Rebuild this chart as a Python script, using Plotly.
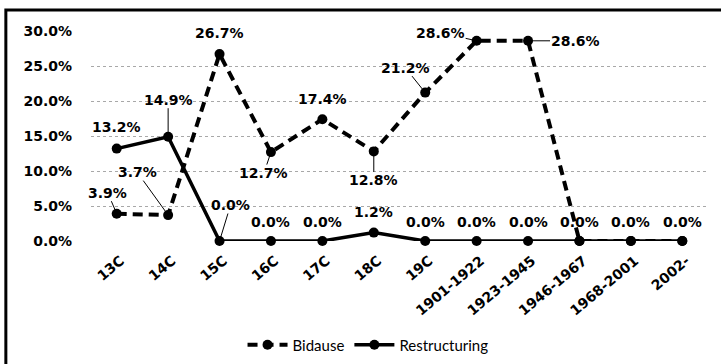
import plotly.graph_objects as go

# Periods on the category axis
periods = ["13C", "14C", "15C", "16C", "17C", "18C", "19C",
           "1901-1922", "1923-1945", "1946-1967", "1968-2001", "2002-"]

# Share of cases per period (%)
bidause = [3.9, 3.7, 26.7, 12.7, 17.4, 12.8, 21.2, 28.6, 28.6, 0.0, 0.0, 0.0]
restructuring = [13.2, 14.9, 0.0, 0.0, 0.0, 1.2, 0.0, 0.0, 0.0, 0.0, 0.0, 0.0]

y_ticks = [0, 5, 10, 15, 20, 25, 30]

# Label placement (pixel offsets from the point; leader line when True)
bid_label_pos = {
    0: (-9, -21, True), 1: (-31, -43, True), 2: (0, -21, False),
    3: (-7, 21, True), 4: (0, -20, False), 5: (0, 29, True),
    6: (-20, -25, True), 7: (-36, -8, True), 8: (47, 0, True),
}
res_label_pos = {0: (0, -22, False), 1: (0, -37, True), 2: (11, -36, True)}

LABEL_FONT = dict(family="DejaVu Sans", size=14, color="black", weight="bold")

fig = go.Figure()
fig.add_trace(go.Scatter(
    x=periods, y=bidause, name="Bidause", mode="lines+markers",
    line=dict(color="black", width=4, dash="10px,6px"),
    marker=dict(size=10, color="black"), cliponaxis=False,
))
fig.add_trace(go.Scatter(
    x=periods, y=restructuring, name="Restructuring", mode="lines+markers",
    line=dict(color="black", width=3.5),
    marker=dict(size=10, color="black"), cliponaxis=False,
))

annotations = []


def add_label(xv, yv, dx, dy, leader):
    text = f"{yv:.1f}%"
    if leader:
        annotations.append(dict(
            x=xv, y=yv, text=text, showarrow=True, arrowhead=0,
            arrowwidth=1, arrowcolor="black", ax=dx, ay=dy, standoff=3,
            font=LABEL_FONT, borderpad=0,
        ))
    else:
        annotations.append(dict(
            x=xv, y=yv, text=text, showarrow=False,
            xshift=dx, yshift=-dy, font=LABEL_FONT,
        ))


for i, v in enumerate(bidause):
    if i in bid_label_pos:
        dx, dy, ld = bid_label_pos[i]
        add_label(periods[i], v, dx, dy, ld)

for i, v in enumerate(restructuring):
    dx, dy, ld = res_label_pos.get(i, (0, -19, False))
    if i == 5:
        dy = -21
    add_label(periods[i], v, dx, dy, ld)

fig.update_layout(
    width=721, height=364,
    margin=dict(l=91, r=13, t=31, b=123, autoexpand=False),
    paper_bgcolor="white", plot_bgcolor="white",
    font=dict(family="DejaVu Sans", size=14, color="black"),
    showlegend=True,
    legend=dict(
        orientation="h", x=0.449, xanchor="center", y=-0.495, yanchor="middle",
        font=dict(family="Lato", size=15),
        itemwidth=40, traceorder="normal",
    ),
    annotations=annotations,
    shapes=[dict(
        type="rect", xref="paper", yref="paper",
        x0=-0.138, x1=1.03, y0=-0.62, y1=1.1,
        line=dict(color="black", width=3), layer="below",
    )],
)
fig.update_xaxes(
    type="category", categoryorder="array", categoryarray=periods,
    range=[-0.5, len(periods) - 0.5], tickangle=-40,
    tickfont=dict(family="DejaVu Sans", size=14, weight="bold"),
    showgrid=False, showline=False, zeroline=False, ticks="",
    ticklabelstandoff=8, ticklabelshift=4, automargin=False,
)
fig.update_yaxes(
    range=[0, 30], tickvals=y_ticks,
    ticktext=[f"{t:.1f}%" for t in y_ticks],
    tickfont=dict(family="DejaVu Sans", size=14, weight="bold"),
    showgrid=True, gridcolor="#a8a8a8", griddash="dot", gridwidth=1,
    zeroline=False, showline=False, ticks="", ticklabelstandoff=18,
    automargin=False,
)

fig.write_html("out.html")
